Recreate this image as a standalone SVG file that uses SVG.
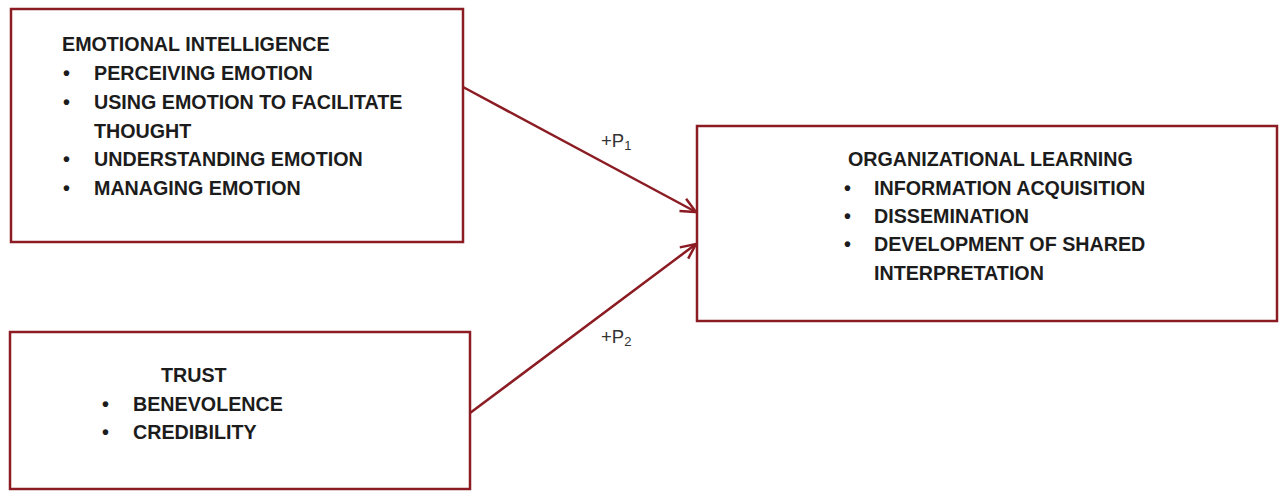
<svg xmlns="http://www.w3.org/2000/svg" width="1282" height="492" viewBox="0 0 1282 492">
<defs>
<style>
.box{fill:#fff;stroke:#8c1c24;stroke-width:2.5}
.t{font-family:"Liberation Sans",Arial,sans-serif;font-weight:bold;font-size:19.7px;fill:#1c1c1c}
.lbl{font-family:"Liberation Sans",Arial,sans-serif;font-size:18.5px;fill:#333}
.sub{font-size:13px}
.conn{stroke:#8c1c24;stroke-width:2.5;fill:none}
</style>
<marker id="arr" markerUnits="userSpaceOnUse" markerWidth="20" markerHeight="20" viewBox="0 0 20 20" refX="18" refY="10" orient="auto">
<path d="M3,3 L18,10 L3,17" fill="none" stroke="#8c1c24" stroke-width="2.5"/>
</marker>
</defs>
<rect width="1282" height="492" fill="#fff"/>
<g id="connectors">
<line class="conn" x1="463" y1="87" x2="696" y2="212" marker-end="url(#arr)"/>
<line class="conn" x1="470" y1="413" x2="696" y2="244" marker-end="url(#arr)"/>
<text class="lbl" x="601" y="147">+P<tspan class="sub" dy="3">1</tspan></text>
<text class="lbl" x="601" y="343">+P<tspan class="sub" dy="3">2</tspan></text>
</g>
<g id="node-ei">
<rect class="box" x="11" y="9" width="452" height="233"/>
<text class="t" x="62" y="51">EMOTIONAL INTELLIGENCE</text>
<text class="t" x="63" y="80">•</text><text class="t" x="94" y="80">PERCEIVING EMOTION</text>
<text class="t" x="63" y="109">•</text><text class="t" x="94" y="109">USING EMOTION TO FACILITATE</text>
<text class="t" x="94" y="138">THOUGHT</text>
<text class="t" x="63" y="166">•</text><text class="t" x="94" y="166">UNDERSTANDING EMOTION</text>
<text class="t" x="63" y="195">•</text><text class="t" x="94" y="195">MANAGING EMOTION</text>
</g>
<g id="node-trust">
<rect class="box" x="10" y="332" width="460" height="157"/>
<text class="t" x="161" y="382">TRUST</text>
<text class="t" x="102" y="411">•</text><text class="t" x="133" y="411">BENEVOLENCE</text>
<text class="t" x="102" y="439">•</text><text class="t" x="133" y="439">CREDIBILITY</text>
</g>
<g id="node-ol">
<rect class="box" x="697" y="126" width="580" height="195"/>
<text class="t" x="848" y="166">ORGANIZATIONAL LEARNING</text>
<text class="t" x="844" y="195">•</text><text class="t" x="874" y="195">INFORMATION ACQUISITION</text>
<text class="t" x="844" y="223">•</text><text class="t" x="874" y="223">DISSEMINATION</text>
<text class="t" x="844" y="251">•</text><text class="t" x="874" y="251">DEVELOPMENT OF SHARED</text>
<text class="t" x="874" y="280">INTERPRETATION</text>
</g>
</svg>
